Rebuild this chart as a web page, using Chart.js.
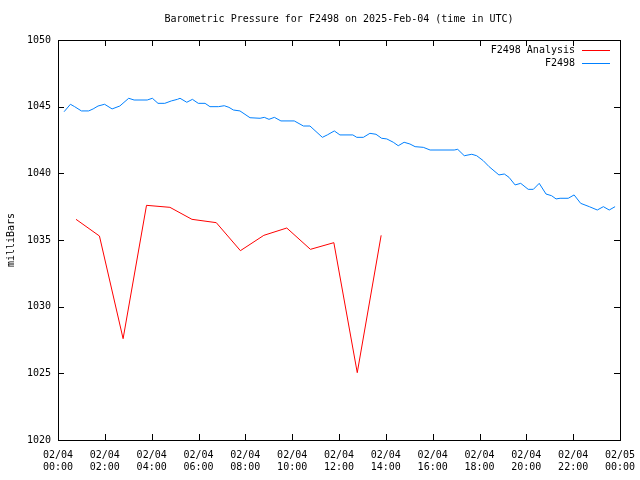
<!DOCTYPE html>
<html>
<head>
<meta charset="utf-8">
<script src="https://cdn.jsdelivr.net/npm/chart.js@4/dist/chart.umd.min.js"></script>
<style>
  html, body { margin: 0; padding: 0; background: #fff; }
  #wrap { width: 640px; height: 480px; }
</style>
</head>
<body>
<div id="wrap"><canvas id="pressureChart" width="640" height="480"></canvas></div>
<script>
// tick labels (x axis in hours since 02/04 00:00 UTC)
const tickHours = [0, 2, 4, 6, 8, 10, 12, 14, 16, 18, 20, 22, 24];
const tickDates = ["02/04", "02/04", "02/04", "02/04", "02/04", "02/04", "02/04",
                   "02/04", "02/04", "02/04", "02/04", "02/04", "02/05"];
const tickTimes = ["00:00", "02:00", "04:00", "06:00", "08:00", "10:00", "12:00",
                   "14:00", "16:00", "18:00", "20:00", "22:00", "00:00"];

// F2498 Analysis (hourly)
const analysisHours = [0.77, 1.77, 2.78, 3.78, 4.78, 5.72, 6.76, 7.79, 8.79, 9.77, 10.78, 11.78, 12.78, 13.8];
const analysisValues = [1036.55, 1035.3, 1027.6, 1037.6, 1037.45, 1036.55, 1036.3,
                        1034.2, 1035.35, 1035.9, 1034.3, 1034.8, 1025.05, 1035.35];

// F2498 observations
const obsHours = [0.26, 0.53, 0.71, 1.0, 1.31, 1.5, 1.71, 1.99, 2.31, 2.64,
                  3.02, 3.25, 3.81, 4.03, 4.27, 4.56, 4.84, 5.1, 5.21, 5.5,
                  5.74, 5.99, 6.28, 6.49, 6.85, 7.1, 7.3, 7.49, 7.77, 8.2,
                  8.63, 8.81, 9.01, 9.24, 9.52, 10.09, 10.48, 10.76, 11.29, 11.5,
                  11.8, 12.04, 12.59, 12.76, 13.04, 13.32, 13.58, 13.82, 14.04, 14.32,
                  14.53, 14.78, 15.03, 15.25, 15.6, 15.89, 16.92, 17.07, 17.35, 17.67,
                  17.88, 18.16, 18.41, 18.83, 19.06, 19.26, 19.52, 19.76, 20.08, 20.3,
                  20.55, 20.84, 21.08, 21.27, 21.44, 21.79, 22.04, 22.32, 22.69, 23.03,
                  23.29, 23.54, 23.79];
const obsValues = [1044.62, 1045.18, 1045.0, 1044.68, 1044.68, 1044.83, 1045.05, 1045.18, 1044.83, 1045.05,
                   1045.63, 1045.5, 1045.5, 1045.63, 1045.25, 1045.25, 1045.43, 1045.55, 1045.63, 1045.33,
                   1045.55, 1045.25, 1045.25, 1045.0, 1045.0, 1045.07, 1044.95, 1044.75, 1044.68, 1044.17,
                   1044.13, 1044.2, 1044.05, 1044.2, 1043.93, 1043.93, 1043.55, 1043.55, 1042.7, 1042.88,
                   1043.18, 1042.88, 1042.88, 1042.7, 1042.7, 1043.0, 1042.93, 1042.63, 1042.58, 1042.33,
                   1042.07, 1042.33, 1042.2, 1042.0, 1041.95, 1041.75, 1041.75, 1041.8, 1041.32, 1041.43,
                   1041.32, 1040.95, 1040.5, 1039.88, 1039.95, 1039.7, 1039.13, 1039.25, 1038.8, 1038.8,
                   1039.25, 1038.45, 1038.32, 1038.08, 1038.13, 1038.13, 1038.38, 1037.75, 1037.5, 1037.25,
                   1037.5, 1037.25, 1037.5];

const FONT = "'DejaVu Sans Mono', 'Liberation Mono', monospace";
const toPoints = (xs, ys) => xs.map((x, i) => ({ x: x, y: ys[i] }));

// frame, inward ticks, title, y label and legend in gnuplot style
const gnuplotDeco = {
    id: "gnuplotDeco",
    afterDraw(chart) {
        const ctx = chart.ctx;
        const a = chart.chartArea;
        const xs = chart.scales.x, ys = chart.scales.y;
        ctx.save();
        ctx.strokeStyle = "#000";
        ctx.lineWidth = 1;
        ctx.strokeRect(Math.round(a.left) + 0.5, Math.round(a.top) + 0.5,
                       Math.round(a.right - a.left), Math.round(a.bottom - a.top));
        ctx.beginPath();
        tickHours.forEach(h => {
            const px = Math.round(xs.getPixelForValue(h)) + 0.5;
            ctx.moveTo(px, a.bottom); ctx.lineTo(px, a.bottom - 6);
            ctx.moveTo(px, a.top); ctx.lineTo(px, a.top + 6);
        });
        for (let v = 1020; v <= 1050; v += 5) {
            const py = Math.round(ys.getPixelForValue(v)) + 0.5;
            ctx.moveTo(a.left, py); ctx.lineTo(a.left + 6, py);
            ctx.moveTo(a.right, py); ctx.lineTo(a.right - 6, py);
        }
        ctx.stroke();

        ctx.fillStyle = "#000";
        ctx.font = "10px " + FONT;
        ctx.textAlign = "center";
        ctx.textBaseline = "middle";
        ctx.fillText("Barometric Pressure for F2498 on 2025-Feb-04 (time in UTC)", (a.left + a.right) / 2, 19);

        ctx.save();
        ctx.translate(11, (a.top + a.bottom) / 2);
        ctx.rotate(-Math.PI / 2);
        ctx.fillText("milliBars", 0, 0);
        ctx.restore();

        // legend
        ctx.textAlign = "right";
        chart.data.datasets.forEach((ds, i) => {
            const y = 50 + i * 13;
            ctx.fillStyle = "#000";
            ctx.fillText(ds.label, 575, y);
            ctx.strokeStyle = ds.borderColor;
            ctx.beginPath();
            ctx.moveTo(582, y + 0.5); ctx.lineTo(610, y + 0.5);
            ctx.stroke();
        });
        ctx.restore();
    }
};

new Chart(document.getElementById("pressureChart"), {
    type: "line",
    data: {
        datasets: [
            {
                label: "F2498 Analysis",
                data: toPoints(analysisHours, analysisValues),
                borderColor: "#ff0000",
                borderWidth: 1,
                pointRadius: 0,
                tension: 0
            },
            {
                label: "F2498",
                data: toPoints(obsHours, obsValues),
                borderColor: "#0080ff",
                borderWidth: 1,
                pointRadius: 0,
                tension: 0
            }
        ]
    },
    options: {
        responsive: false,
        animation: false,
        layout: { padding: { left: 0, right: 20, top: 40, bottom: 0 } },
        plugins: {
            legend: { display: false },
            title: { display: false },
            tooltip: { enabled: false }
        },
        scales: {
            x: {
                type: "linear",
                min: 0,
                max: 24,
                afterBuildTicks: s => { s.ticks = tickHours.map(h => ({ value: h })); },
                afterFit: s => { s.height = 40; s.paddingLeft = 0; s.paddingRight = 0; },
                grid: { display: false, drawTicks: false },
                border: { display: false },
                ticks: {
                    color: "#000",
                    font: { family: FONT, size: 10 },
                    padding: 9,
                    maxRotation: 0,
                    autoSkip: false,
                    callback: v => {
                        const i = tickHours.indexOf(v);
                        return i < 0 ? "" : [tickDates[i], tickTimes[i]];
                    }
                }
            },
            y: {
                min: 1020,
                max: 1050,
                afterFit: s => { s.width = 58; s.paddingTop = 0; s.paddingBottom = 0; },
                grid: { display: false, drawTicks: false },
                border: { display: false },
                ticks: {
                    stepSize: 5,
                    color: "#000",
                    font: { family: FONT, size: 10 },
                    padding: 7,
                    callback: v => String(v)
                }
            }
        }
    },
    plugins: [gnuplotDeco]
});
</script>
</body>
</html>
